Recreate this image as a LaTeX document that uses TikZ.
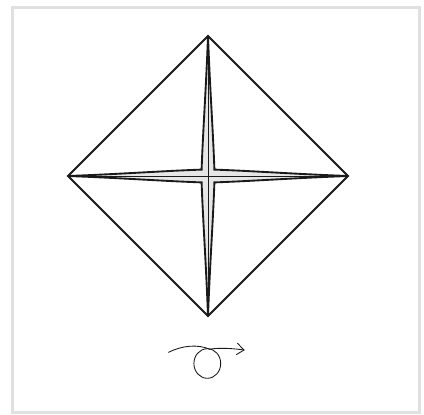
\documentclass[tikz,border=0pt]{standalone}
\usetikzlibrary{arrows.meta}
\definecolor{framegray}{HTML}{E0E0E0}
\definecolor{foldgray}{HTML}{E6E6E6}
\definecolor{ink}{HTML}{1A1A1A}
\tikzset{
  outline/.style={draw=ink,line width=1.35pt,line join=miter},
  star/.style={draw=ink,fill=foldgray,line width=1.4pt,line join=miter},
  crease/.style={draw=ink,line width=0.7pt},
  loopline/.style={draw=ink,line width=0.65pt,line cap=round},
}
\begin{document}
\begin{tikzpicture}[x=0.75pt,y=-0.75pt]
\useasboundingbox (0,0) rectangle (424,414);
\fill[white] (0,0) rectangle (424,414);
\draw[framegray,line width=2.25pt] (12.5,7.5) rectangle (419,412.5);
\coordinate (T) at (208,36);
\coordinate (B) at (208,316);
\coordinate (L) at (68,176);
\coordinate (R) at (348,176);
\coordinate (C) at (208,176);
\path[star] (T)
  .. controls (206,90) and (203,130) .. (201.6,169.6)
  .. controls (162,171) and (122,174) .. (L)
  .. controls (122,178) and (162,181) .. (201.6,182.4)
  .. controls (203,222) and (206,262) .. (B)
  .. controls (210,262) and (213,222) .. (214.4,182.4)
  .. controls (254,181) and (294,178) .. (R)
  .. controls (294,174) and (254,171) .. (214.4,169.6)
  .. controls (213,130) and (210,90) .. (T) -- cycle;
\draw[crease] (T) -- (B);
\draw[crease] (L) -- (R);
\draw[outline] (T) -- (R) -- (B) -- (L) -- cycle;
\coordinate (S) at (168.5,352.3);
\coordinate (J) at (209.5,349.2);
\coordinate (E) at (244,350);
\coordinate (H1) at (237.5,343.3);
\coordinate (H2) at (236.5,354.5);
\coordinate (O) at (207.3,363.5);
\draw[loopline] (S) .. controls (182,345.5) and (198,344) .. (J);
\draw[loopline] (O) ellipse[x radius=13.4,y radius=14.8];
\draw[loopline] (J) .. controls (220,347.5) and (234,348.5) .. (E);
\draw[loopline] (H1) -- (E) -- (H2);
\end{tikzpicture}
\end{document}
